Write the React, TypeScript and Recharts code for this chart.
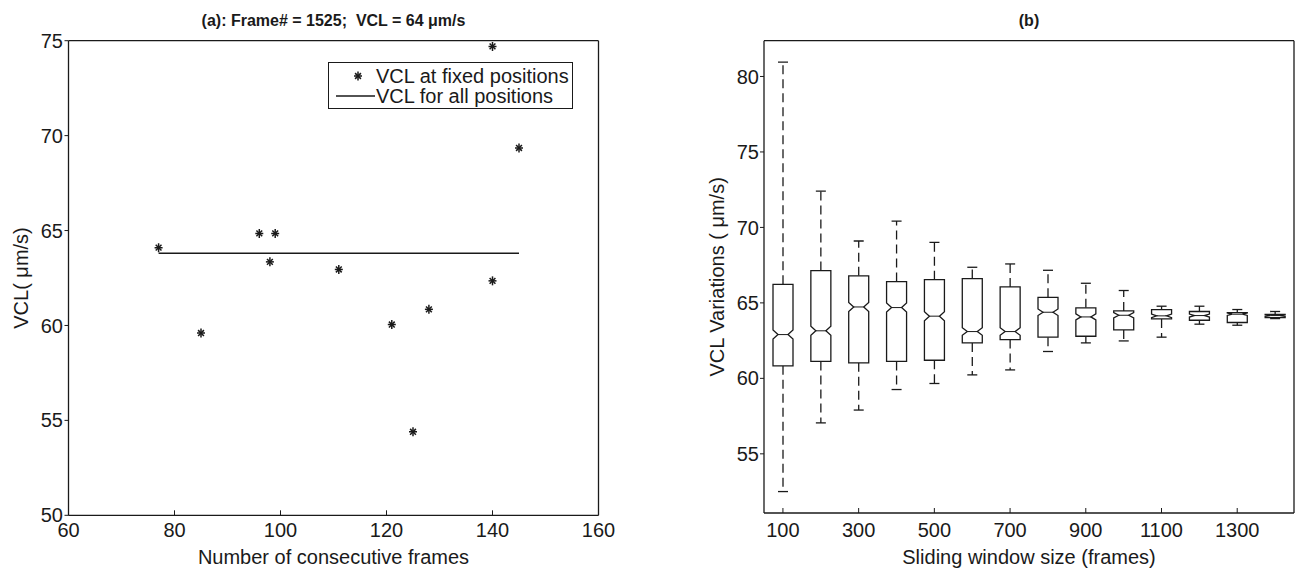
import React from 'react';
import { ComposedChart, Scatter, XAxis, YAxis, Bar, Legend } from 'recharts';

// ---------- Panel (a) data ----------
const frameCounts = [77, 85, 96, 98, 99, 111, 121, 125, 128, 140, 140, 145];
const vclFixed = [64.1, 59.6, 64.85, 63.35, 64.85, 62.95, 60.05, 54.4, 60.85, 62.35, 74.7, 69.35];
const allPosX = [77, 145];
const allPosY = [63.8, 63.8];
const aXTicks = [60, 80, 100, 120, 140, 160];
const aYTicks = [50, 55, 60, 65, 70, 75];

// ---------- Panel (b) data ----------
const windowSizes = [100, 200, 300, 400, 500, 600, 700, 800, 900, 1000, 1100, 1200, 1300, 1400];
const whiskerMax = [80.95, 72.41, 69.1, 70.42, 69.01, 67.36, 67.58, 67.16, 66.3, 65.82, 64.78, 64.78, 64.56, 64.43];
const q3s = [66.23, 67.14, 66.79, 66.41, 66.54, 66.61, 66.06, 65.37, 64.67, 64.47, 64.56, 64.43, 64.36, 64.23];
const medians = [62.9, 63.15, 64.73, 64.69, 64.12, 63.1, 63.1, 64.38, 64.07, 64.18, 64.14, 64.16, 64.25, 64.16];
const q1s = [60.83, 61.12, 61.03, 61.12, 61.2, 62.35, 62.57, 62.73, 62.79, 63.21, 63.94, 63.85, 63.7, 64.03];
const whiskerMin = [52.5, 57.05, 57.9, 59.26, 59.66, 60.23, 60.56, 61.78, 62.35, 62.48, 62.73, 63.59, 63.52, 63.96];
const notchHalf = [0.3, 0.3, 0.3, 0.3, 0.3, 0.25, 0.25, 0.22, 0.2, 0.18, 0.12, 0.1, 0.08, 0.05];
const bXTicks = [100, 300, 500, 700, 900, 1100, 1300];
const bYTicks = [55, 60, 65, 70, 75, 80];

const fixedPts = frameCounts.map((x, i) => ({ x, y: vclFixed[i] }));
const allPts = allPosX.map((x, i) => ({ x, y: allPosY[i] }));
const boxData = windowSizes.map((x, i) => ({
  x,
  box: [q1s[i], q3s[i]],
  q1: q1s[i],
  q3: q3s[i],
  med: medians[i],
  lo: whiskerMin[i],
  hi: whiskerMax[i],
  notch: notchHalf[i],
}));

const FONT = '"Liberation Sans", Arial, Helvetica, sans-serif';
const INK = '#1a1a1a';
const tickStyle = { fill: INK, fontSize: 20, fontFamily: FONT };

const Star = (props: any) => {
  const { cx, cy } = props;
  if (cx == null || cy == null) return null;
  const r = 4;
  const d = 2.9;
  return (
    <g stroke={INK} strokeWidth={1.5}>
      <line x1={cx - r} y1={cy} x2={cx + r} y2={cy} />
      <line x1={cx} y1={cy - r - 0.5} x2={cx} y2={cy + r + 0.5} />
      <line x1={cx - d} y1={cy - d} x2={cx + d} y2={cy + d} />
      <line x1={cx - d} y1={cy + d} x2={cx + d} y2={cy - d} />
    </g>
  );
};

const NoShape = () => <g />;

const BoxShape = (props: any) => {
  const { x, y, width, height, payload } = props;
  if (payload == null || x == null || y == null) return null;
  const top = Math.min(y, y + height);
  const h = Math.abs(height);
  const span = payload.q3 - payload.q1;
  if (!span) return null;
  const ppu = h / span;
  const py = (v: number) => top + (payload.q3 - v) * ppu;
  const w = width;
  const cx = x + w / 2;
  const inset = w * 0.25;
  const nHi = Math.min(payload.med + payload.notch, payload.q3);
  const nLo = Math.max(payload.med - payload.notch, payload.q1);
  const pts = [
    [x, py(payload.q3)],
    [x + w, py(payload.q3)],
    [x + w, py(nHi)],
    [x + w - inset, py(payload.med)],
    [x + w, py(nLo)],
    [x + w, py(payload.q1)],
    [x, py(payload.q1)],
    [x, py(nLo)],
    [x + inset, py(payload.med)],
    [x, py(nHi)],
  ]
    .map((p) => p.join(','))
    .join(' ');
  const cap = w * 0.5;
  return (
    <g stroke={INK} fill="none" strokeWidth={1.3}>
      <line x1={cx} y1={py(payload.q3)} x2={cx} y2={py(payload.hi)} strokeDasharray="9 5" />
      <line x1={cx} y1={py(payload.q1)} x2={cx} y2={py(payload.lo)} strokeDasharray="9 5" />
      <line x1={cx - cap / 2} y1={py(payload.hi)} x2={cx + cap / 2} y2={py(payload.hi)} />
      <line x1={cx - cap / 2} y1={py(payload.lo)} x2={cx + cap / 2} y2={py(payload.lo)} />
      <polygon points={pts} fill="#fff" />
      <line x1={x + inset} y1={py(payload.med)} x2={x + w - inset} y2={py(payload.med)} strokeWidth={1} />
    </g>
  );
};

const LegendBox = () => (
  <div
    style={{
      border: `1px solid ${INK}`,
      background: '#fff',
      width: 245,
      height: 47,
      boxSizing: 'border-box',
      fontFamily: FONT,
      fontSize: 20,
      lineHeight: '20px',
      color: INK,
      paddingTop: 3,
    }}
  >
    <div style={{ display: 'flex', alignItems: 'center', height: 20, whiteSpace: 'nowrap' }}>
      <svg width={47} height={20} style={{ flex: 'none' }}>
        <Star cx={29} cy={10} />
      </svg>
      <span>VCL at fixed positions</span>
    </div>
    <div style={{ display: 'flex', alignItems: 'center', height: 20, whiteSpace: 'nowrap' }}>
      <svg width={47} height={20} style={{ flex: 'none' }}>
        <line x1={7} x2={46} y1={10} y2={10} stroke={INK} strokeWidth={1.4} />
      </svg>
      <span>VCL for all positions</span>
    </div>
  </div>
);

const axisLine = { stroke: INK, strokeWidth: 1.3 };

export default function App() {
  return (
    <div style={{ position: 'absolute', left: 0, top: 0, width: 1295, height: 569, background: '#fff' }}>
      <div style={{ position: 'absolute', left: 0, top: 0 }}>
        <ComposedChart width={650} height={569} margin={{ top: 39.7, right: 50.5, bottom: 0, left: 0 }}>
          <XAxis
            xAxisId="a"
            dataKey="x"
            type="number"
            domain={[60, 160]}
            ticks={aXTicks}
            allowDataOverflow
            height={53.7}
            tickSize={-5}
            tickMargin={12.4}
            tick={tickStyle}
            axisLine={axisLine}
            tickLine={{ stroke: INK }}
            label={{ value: 'Number of consecutive frames', position: 'insideBottom', offset: 5, style: { fill: INK, fontSize: 20, fontFamily: FONT } }}
          />
          <XAxis
            xAxisId="aTop"
            dataKey="x"
            orientation="top"
            type="number"
            domain={[60, 160]}
            ticks={aXTicks}
            allowDataOverflow
            height={1}
            tickSize={-5}
            tick={false}
            axisLine={axisLine}
            tickLine={{ stroke: INK }}
            label={{ value: '(a): Frame# = 1525;\u00A0\u00A0VCL = 64 μm/s', position: 'top', offset: 13.5, style: { fill: INK, fontSize: 16, fontWeight: 'bold', fontFamily: FONT } }}
          />
          <YAxis
            yAxisId="a"
            dataKey="y"
            type="number"
            domain={[50, 75]}
            ticks={aYTicks}
            allowDataOverflow
            width={68.5}
            tickSize={4}
            tickMargin={1.5}
            tick={tickStyle}
            axisLine={axisLine}
            tickLine={{ stroke: INK }}
            label={{ value: 'VCL( μm/s)', angle: -90, position: 'insideLeft', offset: 21, style: { textAnchor: 'middle', fill: INK, fontSize: 20, fontFamily: FONT } }}
          />
          <YAxis
            yAxisId="aRight"
            dataKey="y"
            orientation="right"
            type="number"
            domain={[50, 75]}
            ticks={aYTicks}
            allowDataOverflow
            width={1}
            tickSize={-4}
            tick={false}
            axisLine={axisLine}
            tickLine={{ stroke: INK }}
          />
          <Scatter
            xAxisId="aTop"
            yAxisId="aRight"
            data={fixedPts}
            shape={NoShape}
            legendType="none"
            isAnimationActive={false}
          />
          <Scatter
            xAxisId="a"
            yAxisId="a"
            data={allPts}
            line={{ stroke: INK, strokeWidth: 1.4 }}
            shape={NoShape}
            isAnimationActive={false}
          />
          <Scatter xAxisId="a" yAxisId="a" data={fixedPts} shape={Star} isAnimationActive={false} />
          <Legend
            layout="horizontal"
            verticalAlign="middle"
            align="center"
            content={() => <LegendBox />}
            wrapperStyle={{ left: 328, top: 62, width: 245, height: 47 }}
          />
        </ComposedChart>
      </div>

      <div style={{ position: 'absolute', left: 650, top: 0 }}>
        <ComposedChart width={645} height={569} data={boxData} margin={{ top: 39.7, right: 0, bottom: 0, left: 0 }}>
          <XAxis
            xAxisId="b"
            dataKey="x"
            type="number"
            domain={[50, 1450]}
            ticks={bXTicks}
            allowDataOverflow
            height={56}
            tickSize={-5}
            tickMargin={14.7}
            tick={tickStyle}
            axisLine={axisLine}
            tickLine={{ stroke: INK }}
            label={{ value: 'Sliding window size (frames)', position: 'insideBottom', offset: 5, style: { fill: INK, fontSize: 20, fontFamily: FONT } }}
          />
          <XAxis
            xAxisId="bTop"
            dataKey="x"
            orientation="top"
            type="number"
            domain={[50, 1450]}
            ticks={bXTicks}
            allowDataOverflow
            height={1}
            tickSize={-5}
            tick={false}
            axisLine={axisLine}
            tickLine={{ stroke: INK }}
            label={{ value: '(b)', position: 'top', offset: 13.5, style: { fill: INK, fontSize: 16, fontWeight: 'bold', fontFamily: FONT } }}
          />
          <YAxis
            yAxisId="b"
            type="number"
            domain={[51.08, 82.37]}
            ticks={bYTicks}
            allowDataOverflow
            width={114}
            tickSize={4}
            tickMargin={1}
            tick={tickStyle}
            axisLine={axisLine}
            tickLine={{ stroke: INK }}
            label={{ value: 'VCL Variations ( μm/s)', angle: -90, position: 'insideLeft', offset: 67, style: { textAnchor: 'middle', fill: INK, fontSize: 20, fontFamily: FONT } }}
          />
          <YAxis
            yAxisId="bRight"
            dataKey="med"
            orientation="right"
            type="number"
            domain={[51.08, 82.37]}
            ticks={bYTicks}
            allowDataOverflow
            width={1}
            tickSize={-4}
            tick={false}
            axisLine={axisLine}
            tickLine={{ stroke: INK }}
          />
          <Scatter
            xAxisId="bTop"
            yAxisId="bRight"
            shape={NoShape}
            legendType="none"
            isAnimationActive={false}
          />
          <Bar
            xAxisId="b"
            yAxisId="b"
            dataKey="box"
            barSize={20}
            shape={BoxShape}
            activeBar={false}
            isAnimationActive={false}
          />
        </ComposedChart>
      </div>
    </div>
  );
}
